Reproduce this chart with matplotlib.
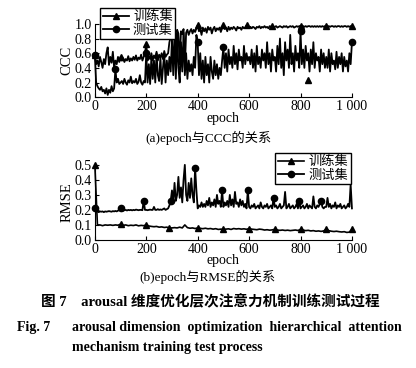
import numpy as np
import matplotlib
matplotlib.use('Agg')
import matplotlib.pyplot as plt

plt.rcParams['font.family'] = ['Liberation Serif', 'Noto Sans CJK SC']
plt.rcParams['font.size'] = 10

# epochs
ep5 = np.arange(0, 1001, 5)
ep10 = np.arange(0, 1001, 10)

# (a) CCC, sampled every 5 epochs
ccc_train = (
    [0.58, 0.45, 0.5, 0.42, 0.55, 0.48, 0.4, 0.52, 0.45, 0.6, 0.68, 0.44, 0.55, 0.47, 0.62, 0.4, 0.5, 0.45, 0.55, 0.48]
    + [0.55, 0.5, 0.53, 0.48, 0.52, 0.5, 0.56, 0.49, 0.53, 0.5, 0.55, 0.51, 0.57, 0.5, 0.54, 0.52, 0.58, 0.5, 0.55, 0.6]
    + [0.73, 0.5, 0.56, 0.52, 0.6, 0.5, 0.57, 0.53, 0.62, 0.5, 0.58, 0.54, 0.6, 0.52, 0.63, 0.55, 0.58, 0.6, 0.75, 0.82]
    + [0.88, 0.85, 0.9, 0.6, 0.92, 0.87, 0.45, 0.9, 0.86, 0.93, 0.4, 0.88, 0.92, 0.85, 0.9, 0.93, 0.87, 0.92, 0.89, 0.94]
    + [0.98, 0.9, 0.93, 0.85, 0.95, 0.9, 0.94, 0.88, 0.96, 0.92, 0.95, 0.87, 0.93, 0.96, 0.9, 0.94, 0.92, 0.95, 0.89, 0.94]
    + [0.98, 0.93, 0.95, 0.9, 0.96, 0.92, 0.95, 0.93, 0.96, 0.94, 0.91, 0.96, 0.94, 0.95, 0.92, 0.96, 0.94, 0.95, 0.98, 0.95]
    + [0.95, 0.96, 0.94, 0.96, 0.95, 0.93, 0.96, 0.95, 0.97, 0.94, 0.96, 0.95, 0.97, 0.95, 0.96, 0.94, 0.97, 0.96, 0.97, 0.95]
    + [0.96, 0.97, 0.95, 0.96, 0.97, 0.96, 0.95, 0.97, 0.96, 0.97, 0.95, 0.96, 0.97, 0.96, 0.97, 0.95, 0.96, 0.97, 0.96, 0.97]
    + [0.97, 0.96, 0.97, 0.96, 0.97, 0.96, 0.97, 0.97, 0.96, 0.97, 0.96, 0.97, 0.96, 0.97, 0.96, 0.97, 0.96, 0.97, 0.96, 0.97]
    + [0.97, 0.96, 0.97, 0.96, 0.97, 0.97, 0.96, 0.97, 0.96, 0.97, 0.97, 0.96, 0.97, 0.96, 0.97, 0.97, 0.96, 0.97, 0.96, 0.97, 0.97]
)
ccc_test = (
    [0.58, 0.2, 0.15, 0.12, 0.1, 0.14, 0.08, 0.1, 0.05, 0.12, 0.03, 0.1, 0.06, 0.15, 0.08, 0.12, 0.38, 0.2, 0.25, 0.18]
    + [0.2, 0.22, 0.18, 0.25, 0.2, 0.17, 0.23, 0.2, 0.28, 0.19, 0.22, 0.2, 0.25, 0.18, 0.21, 0.3, 0.2, 0.17, 0.22, 0.2]
    + [0.6, 0.2, 0.45, 0.18, 0.55, 0.25, 0.5, 0.2, 0.6, 0.3, 0.22, 0.55, 0.18, 0.4, 0.6, 0.2, 0.5, 0.3, 0.55, 0.35]
    + [0.8, 0.3, 0.9, 0.25, 0.85, 0.4, 0.2, 0.75, 0.35, 0.88, 0.3, 0.6, 0.25, 0.5, 0.35, 0.45, 0.3, 0.55, 0.4, 0.85]
    + [0.75, 0.3, 0.6, 0.25, 0.5, 0.2, 0.55, 0.3, 0.45, 0.2, 0.55, 0.35, 0.25, 0.5, 0.3, 0.45, 0.25, 0.4, 0.3, 0.5]
    + [0.68, 0.4, 0.6, 0.35, 0.65, 0.45, 0.55, 0.4, 0.7, 0.45, 0.6, 0.38, 0.65, 0.5, 0.55, 0.4, 0.7, 0.45, 0.6, 0.5]
    + [0.55, 0.45, 0.65, 0.4, 0.6, 0.35, 0.7, 0.45, 0.55, 0.4, 0.65, 0.5, 0.6, 0.4, 0.75, 0.45, 0.6, 0.35, 0.65, 0.5]
    + [0.55, 0.35, 0.7, 0.45, 0.8, 0.4, 0.6, 0.3, 0.75, 0.5, 0.65, 0.4, 0.85, 0.45, 0.6, 0.35, 0.7, 0.5, 0.6, 0.4]
    + [0.9, 0.45, 0.65, 0.4, 0.7, 0.5, 0.6, 0.35, 0.65, 0.45, 0.75, 0.4, 0.6, 0.5, 0.55, 0.35, 0.65, 0.45, 0.6, 0.4]
    + [0.55, 0.4, 0.65, 0.35, 0.6, 0.45, 0.5, 0.38, 0.62, 0.4, 0.55, 0.45, 0.6, 0.35, 0.55, 0.42, 0.5, 0.35, 0.6, 0.45, 0.75]
)
ccc_train_marks = [0, 20, 40, 80, 100, 118, 138, 160, 180, 200]
ccc_test_marks = [0, 16, 40, 80, 100, 160, 200]
ccc_outlier = (830, 0.23)

# (b) RMSE
rmse_train = (
    [0.5, 0.1, 0.1, 0.095, 0.1, 0.098, 0.1, 0.097, 0.1, 0.098]
    + [0.105, 0.097, 0.1, 0.095, 0.098, 0.096, 0.1, 0.094, 0.097, 0.095]
    + [0.1, 0.093, 0.09, 0.088, 0.09, 0.085, 0.087, 0.083, 0.085, 0.08]
    + [0.08, 0.082, 0.08, 0.085, 0.08, 0.1, 0.082, 0.078, 0.08, 0.076]
    + [0.08, 0.077, 0.075, 0.078, 0.074, 0.076, 0.072, 0.075, 0.07, 0.072]
    + [0.07, 0.072, 0.074, 0.07, 0.076, 0.073, 0.075, 0.072, 0.074, 0.071]
    + [0.075, 0.072, 0.07, 0.068, 0.072, 0.07, 0.066, 0.068, 0.065, 0.067]
    + [0.07, 0.066, 0.064, 0.066, 0.063, 0.065, 0.062, 0.064, 0.066, 0.063]
    + [0.07, 0.066, 0.062, 0.064, 0.06, 0.062, 0.058, 0.06, 0.057, 0.06]
    + [0.07, 0.062, 0.058, 0.056, 0.058, 0.055, 0.053, 0.055, 0.05, 0.052, 0.07]
)
rmse_test = (
    [0.21, 0.19, 0.19, 0.185, 0.19, 0.188, 0.19, 0.185, 0.19, 0.188, 0.19, 0.192, 0.19, 0.188, 0.192, 0.19, 0.193, 0.19, 0.195, 0.2]
    + [0.21, 0.2, 0.195, 0.198, 0.2, 0.196, 0.2, 0.198, 0.2, 0.197, 0.2, 0.198, 0.202, 0.2, 0.198, 0.2, 0.2, 0.198, 0.26, 0.2]
    + [0.2, 0.198, 0.2, 0.202, 0.2, 0.2, 0.22, 0.2, 0.2, 0.205, 0.2, 0.203, 0.2, 0.205, 0.21, 0.2, 0.205, 0.21, 0.23, 0.26]
    + [0.33, 0.25, 0.38, 0.26, 0.3, 0.42, 0.28, 0.35, 0.25, 0.4, 0.5, 0.3, 0.26, 0.38, 0.28, 0.41, 0.3, 0.25, 0.48, 0.33]
    + [0.21, 0.23, 0.22, 0.25, 0.22, 0.24, 0.22, 0.26, 0.23, 0.28, 0.22, 0.25, 0.23, 0.27, 0.22, 0.3, 0.24, 0.26, 0.22, 0.33]
    + [0.22, 0.25, 0.23, 0.26, 0.22, 0.3, 0.23, 0.27, 0.22, 0.32, 0.24, 0.25, 0.22, 0.27, 0.23, 0.26, 0.22, 0.24, 0.21, 0.33]
    + [0.22, 0.21, 0.23, 0.22, 0.24, 0.21, 0.22, 0.23, 0.21, 0.25, 0.22, 0.21, 0.23, 0.22, 0.24, 0.21, 0.22, 0.23, 0.21, 0.28]
    + [0.22, 0.23, 0.21, 0.22, 0.24, 0.21, 0.22, 0.23, 0.32, 0.21, 0.22, 0.24, 0.21, 0.22, 0.23, 0.21, 0.22, 0.24, 0.21, 0.26]
    + [0.21, 0.22, 0.23, 0.21, 0.22, 0.24, 0.21, 0.23, 0.22, 0.21, 0.29, 0.22, 0.21, 0.23, 0.22, 0.24, 0.26, 0.22, 0.21, 0.22]
    + [0.22, 0.28, 0.22, 0.24, 0.21, 0.23, 0.22, 0.25, 0.21, 0.23, 0.22, 0.24, 0.21, 0.22, 0.23, 0.21, 0.22, 0.24, 0.22, 0.37, 0.21]
)
rmse_train_marks = [0, 10, 20, 29, 40, 50, 60, 70, 80, 90, 100]
rmse_test_marks = [0, 20, 38, 59, 78, 99, 119, 139, 159, 176]

xticks = [0, 200, 400, 600, 800, 1000]
xticklabels = ['0', '200', '400', '600', '800', '1 000']

fig = plt.figure(figsize=(4.16, 3.68), dpi=100)


def style(ax, ylim, yticks):
    ax.set_xlim(0, 1000)
    ax.set_ylim(*ylim)
    ax.set_xticks(xticks)
    ax.set_xticklabels(xticklabels)
    ax.set_yticks(yticks)
    ax.set_yticklabels(['%.1f' % v for v in yticks])
    ax.spines['top'].set_visible(False)
    ax.spines['right'].set_visible(False)
    ax.tick_params(direction='in', length=3, width=0.8, pad=2, labelsize=10)
    ax.set_xlabel('epoch', labelpad=-1, fontsize=10)


legend_kw = dict(fontsize=9.5, frameon=True, fancybox=False, edgecolor='black',
                 framealpha=1, borderpad=0.2, handlelength=2.0,
                 handletextpad=0.3, labelspacing=0.1, borderaxespad=0)

# top panel
ax1 = fig.add_axes([0.228, 0.736, 0.618, 0.199])
ax1.plot(ep5, ccc_train, color='black', lw=1.3, marker='^', ms=4.5,
         markevery=ccc_train_marks, label='训练集', clip_on=False)
ax1.plot(ep5, ccc_test, color='black', lw=1.3, marker='o', ms=4.5,
         markevery=ccc_test_marks, label='测试集', clip_on=False)
ax1.plot([ccc_outlier[0]], [ccc_outlier[1]], 'k^', ms=4.5)
style(ax1, (0, 1.0), [0.0, 0.2, 0.4, 0.6, 0.8, 1.0])
ax1.set_ylabel('CCC', labelpad=1, fontsize=10.5)
ax1.legend(loc='upper left', bbox_to_anchor=(0.02, 1.22), **legend_kw)
fig.text(0.5, 0.625, '(a)epoch与CCC的关系', ha='center', va='center', fontsize=9.5)

# bottom panel
ax2 = fig.add_axes([0.228, 0.348, 0.618, 0.204])
ax2.plot(ep10, rmse_train, color='black', lw=1.2, marker='^', ms=4.5,
         markevery=rmse_train_marks, label='训练集', clip_on=False)
ax2.plot(ep5, rmse_test, color='black', lw=1.3, marker='o', ms=4.5,
         markevery=rmse_test_marks, label='测试集', clip_on=False)
style(ax2, (0, 0.5), [0.0, 0.1, 0.2, 0.3, 0.4, 0.5])
ax2.set_ylabel('RMSE', labelpad=1, fontsize=10.5)
ax2.legend(loc='upper right', bbox_to_anchor=(0.995, 1.16), **legend_kw)
fig.text(0.5, 0.247, '(b)epoch与RMSE的关系', ha='center', va='center', fontsize=9.5)

# caption
fig.text(0.505, 0.178, '图 7    arousal 维度优化层次注意力机制训练测试过程',
         ha='center', va='center', fontsize=10.5, fontweight='bold')
fig.text(0.04, 0.111, 'Fig. 7', ha='left', va='center', fontsize=10, fontweight='bold')
fig.text(0.173, 0.111, 'arousal dimension  optimization  hierarchical  attention',
         ha='left', va='center', fontsize=10, fontweight='bold')
fig.text(0.173, 0.057, 'mechanism training test process',
         ha='left', va='center', fontsize=10, fontweight='bold')

fig.savefig('out.png', dpi=100)
